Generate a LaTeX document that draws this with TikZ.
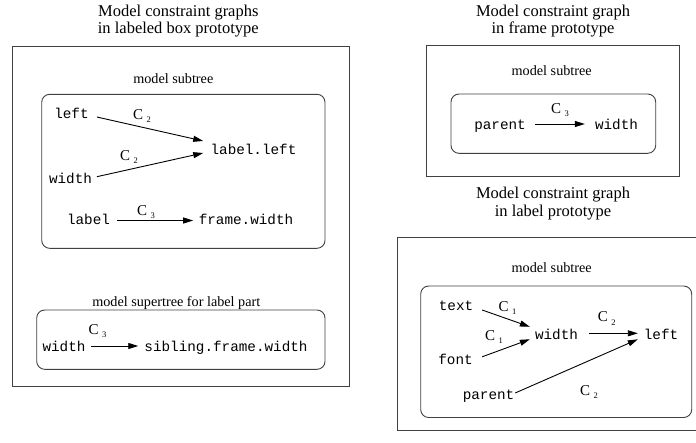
\documentclass[tikz,border=0pt]{standalone}
\usepackage{fontspec}
\setmainfont{Liberation Serif}
\setmonofont{Liberation Mono}
\usetikzlibrary{arrows.meta}

% constraint label: C with a lowered index
\newcommand\Cidx[1]{C\kern3.5pt\raisebox{-3.5pt}{\fontsize{8.5}{8.5}\selectfont #1}}

\begin{document}
\begin{tikzpicture}[x=1pt, y=-1pt,
  title/.style={font=\fontsize{16.5}{17.5}\selectfont, align=center, anchor=north, inner sep=0pt},
  caption/.style={font=\fontsize{14.2}{16}\selectfont, anchor=base, inner sep=0pt},
  var/.style={font=\fontsize{14.3}{14.3}\selectfont\ttfamily, anchor=base, inner sep=0pt, text height=7pt, text depth=0pt},
  clabel/.style={font=\fontsize{15}{15}\selectfont, anchor=base west, inner sep=0pt},
  framebox/.style={draw=black!75, line width=0.9pt},
  panel/.style={framebox, rounded corners=8pt},
  arr/.style={-{Triangle[length=10pt,width=6pt]}, line width=0.9pt}]

\useasboundingbox (0,0) rectangle (696,442);

% ---------- labeled box prototype ----------
\node[title] (tL) at (178.3,4.7) {Model constraint graphs\\in labeled box prototype};
\draw[framebox] (12.7,46.7) rectangle (349,386.7);

\node[caption] (subL) at (173.3,83.3) {model subtree};
\draw[panel] (41.7,94.3) rectangle (325,248.3);

\node[var] (lLeft)      at (71.5,118.3)  {left};
\node[var] (lLabelLeft) at (253.5,154)   {label.left};
\node[var] (lWidth)     at (70.5,183)    {width};
\node[var] (lLabel)     at (88.5,224)    {label};
\node[var] (lFrameW)    at (246,224)     {frame.width};

\draw[arr] ([xshift=8pt,yshift=-2.2pt]lLeft.east) -- ([xshift=-7.2pt,yshift=9.5pt]lLabelLeft.west);
\draw[arr] ([xshift=4.7pt,yshift=2.8pt]lWidth.east) -- ([xshift=-7.2pt,yshift=-2.5pt]lLabelLeft.west);
\draw[arr] ([xshift=6.7pt]lLabel.east) -- ([xshift=-5.4pt]lFrameW.west);

\node[clabel] (c2a) at (133,119) {\Cidx{2}};
\node[clabel] (c2b) at (120,160) {\Cidx{2}};
\node[clabel] (c3a) at (137,215) {\Cidx{3}};

\node[caption] (supL) at (176.3,306) {model supertree for label part};
\draw[panel] (36.7,310) rectangle (325,369.3);

\node[var] (sWidth) at (64,351)  {width};
\node[var] (sSib)   at (226,351) {sibling.frame.width};
\draw[arr] ([xshift=5.2pt,yshift=1.5pt]sWidth.east) -- ([xshift=-6pt,yshift=1.5pt]sSib.west);
\node[clabel] (c3b) at (88.3,334.3) {\Cidx{3}};

% ---------- frame prototype ----------
\node[title] (tF) at (553,4.7) {Model constraint graph\\in frame prototype};
\draw[framebox] (426.7,45.7) rectangle (679,176.7);

\node[caption] (subF) at (551.7,75) {model subtree};
\draw[panel] (451,94) rectangle (655.7,153.3);

\node[var] (fParent) at (500,129.3)   {parent};
\node[var] (fWidth)  at (616.5,129.3) {width};
\draw[arr] ([xshift=9.2pt,yshift=1.8pt]fParent.east) -- ([xshift=-10pt,yshift=1.8pt]fWidth.west);
\node[clabel] (c3c) at (551,113.3) {\Cidx{3}};

% ---------- label prototype ----------
\node[title] (tLab) at (553,187) {Model constraint graph\\in label prototype};
\draw[framebox] (397.3,237.7) rectangle (720,430);

\node[caption] (subLab) at (551.7,272.7) {model subtree};
\draw[panel] (420.7,286) rectangle (691.7,417.5);

\node[var] (bText)   at (456,310)    {text};
\node[var] (bFont)   at (455.5,364.3) {font};
\node[var] (bWidth)  at (556.5,339.3) {width};
\node[var] (bLeft)   at (661,339.3)  {left};
\node[var] (bParent) at (488.5,399.3) {parent};

\draw[arr] ([xshift=8.8pt,yshift=-3.5pt]bText.east) -- ([xshift=-5pt,yshift=9pt]bWidth.west);
\draw[arr] ([xshift=9.3pt,yshift=4pt]bFont.east) -- ([xshift=-5pt,yshift=-3.5pt]bWidth.west);
\draw[arr] ([xshift=11pt,yshift=2.5pt]bWidth.east) -- ([xshift=-5.8pt,yshift=2.5pt]bLeft.west);
\draw[arr] ([xshift=0.7pt,yshift=2.8pt]bParent.east) -- ([xshift=-5.8pt,yshift=-3.5pt]bLeft.west);

\node[clabel] (c1a) at (498.3,311)   {\Cidx{1}};
\node[clabel] (c1b) at (485,340)     {\Cidx{1}};
\node[clabel] (c2c) at (597.7,321.7) {\Cidx{2}};
\node[clabel] (c2d) at (580,395)     {\Cidx{2}};

\end{tikzpicture}
\end{document}
